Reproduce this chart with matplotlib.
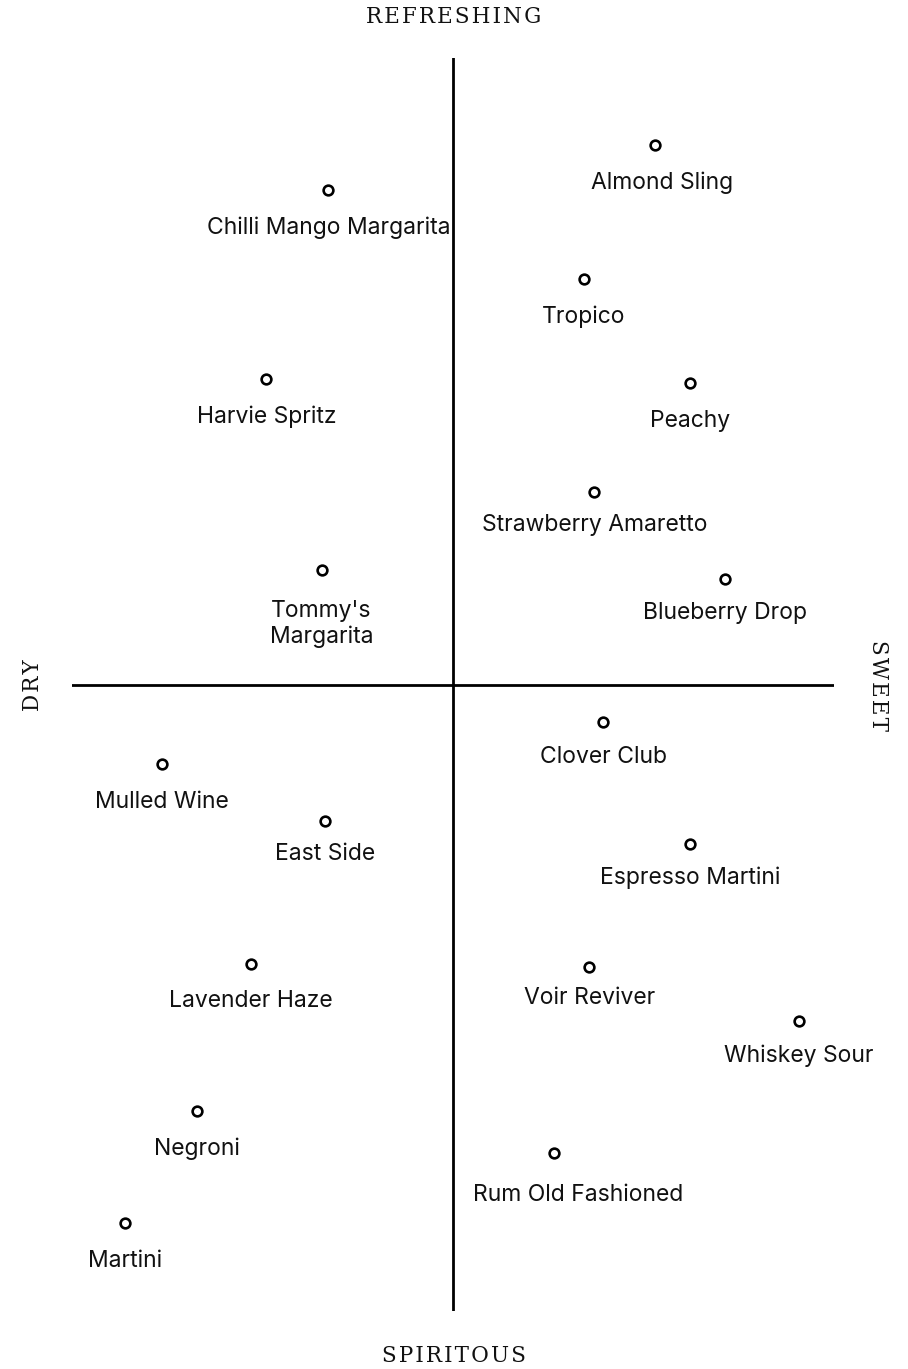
import matplotlib
matplotlib.use('Agg')
import matplotlib.pyplot as plt

# cocktail flavour map: x = dry (-) .. sweet (+), y = spiritous (-) .. refreshing (+)
names = [
    'Almond Sling', 'Chilli Mango Margarita', 'Tropico', 'Harvie Spritz',
    'Peachy', 'Strawberry Amaretto', "Tommy's\nMargarita", 'Blueberry Drop',
    'Clover Club', 'Mulled Wine', 'East Side', 'Espresso Martini',
    'Lavender Haze', 'Voir Reviver', 'Whiskey Sour', 'Negroni',
    'Rum Old Fashioned', 'Martini',
]
sweetness = [5.31, -3.27, 3.43, -4.90, 6.21, 3.71, -3.45, 7.15,
             3.95, -7.65, -3.37, 6.23, -5.31, 3.58, 9.07, -6.73, 2.66, -8.60]
refreshing = [8.61, 7.89, 6.47, 4.88, 4.81, 3.07, 1.83, 1.68,
              -0.60, -1.27, -2.18, -2.55, -4.46, -4.51, -5.37, -6.81, -7.48, -8.60]

# label nudges in points (dx, dy) relative to the marker
label_offset = {
    'Almond Sling': (5, -27),
    'Strawberry Amaretto': (0, -24),
    "Tommy's\nMargarita": (0, -39),
    'Blueberry Drop': (0, -24),
    'Clover Club': (0, -25),
    'East Side': (0, -24),
    'Espresso Martini': (0, -24),
    'Voir Reviver': (0, -22),
    'Whiskey Sour': (0, -25),
    'Rum Old Fashioned': (17, -30),
}

fig = plt.figure(figsize=(9.08, 13.69), dpi=100)
ax = fig.add_axes([72 / 908, 1 - 1311 / 1369, 762 / 908, 1253 / 1369])
ax.set_xlim(-10, 10)
ax.set_ylim(-10, 10)
ax.axis('off')

ax.axhline(0, color='black', lw=2)
ax.axvline(0, color='black', lw=2)

ax.plot(sweetness, refreshing, 'o', ms=7, mfc='white', mec='black', mew=1.9,
        zorder=3)

for name, x, y in zip(names, sweetness, refreshing):
    dx, dy = label_offset.get(name, (0, -27))
    ax.annotate(name, (x, y), xytext=(dx, dy), textcoords='offset points',
                ha='center', va='center', fontsize=16.5, family='Inter',
                linespacing=1.25, color='#111111')


def spaced(s):
    return '\u200a'.join(s)


serif = dict(family='DejaVu Serif', fontsize=15.5, color='#111111')
fig.text(454 / 908, 1 - 17 / 1369, spaced('REFRESHING'),
         ha='center', va='center', **serif)
fig.text(454 / 908, 1 - 1356 / 1369, spaced('SPIRITOUS'),
         ha='center', va='center', **serif)
fig.text(33 / 908, 1 - 685 / 1369, spaced('DRY'), rotation=90,
         ha='center', va='center', **serif)
fig.text(878 / 908, 1 - 685 / 1369, spaced('SWEET'), rotation=-90,
         ha='center', va='center', **serif)

fig.savefig('out.png', dpi=100)
